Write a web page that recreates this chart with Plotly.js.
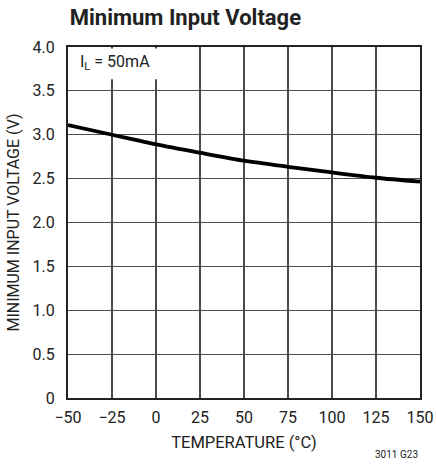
<!DOCTYPE html>
<html>
<head>
<meta charset="utf-8">
<script src="https://cdn.plot.ly/plotly-3.0.1.min.js"></script>
<style>html,body{margin:0;padding:0;background:#fff;}#chart{width:436px;height:465px;}</style>
</head>
<body>
<div id="chart"></div>
<script>
var temperature = [-50, -25, 0, 25, 50, 75, 100, 125, 150];
var minInputVoltage = [3.11, 3.00, 2.89, 2.795, 2.705, 2.635, 2.57, 2.51, 2.465];
var xTickVals = [-50, -25, 0, 25, 50, 75, 100, 125, 150];
var xTickText = ["\u221250", "\u221225", "0", "25", "50", "75", "100", "125", "150"];
var yTickVals = [0, 0.5, 1.0, 1.5, 2.0, 2.5, 3.0, 3.5, 4.0];
var yTickText = ["0", "0.5", "1.0", "1.5", "2.0", "2.5", "3.0", "3.5", "4.0"];

var FONT = "Roboto, 'Liberation Sans', sans-serif";

var trace = {
  x: temperature,
  y: minInputVoltage,
  mode: 'lines',
  line: {color: '#000', width: 3.8, shape: 'spline', smoothing: 0.8},
  hoverinfo: 'skip'
};

var layout = {
  width: 436, height: 465,
  margin: {l: 68, r: 16, t: 47, b: 67, pad: 0},
  paper_bgcolor: '#fff', plot_bgcolor: '#fff',
  showlegend: false,
  font: {family: FONT, color: '#222', size: 16},
  title: {
    text: '<b>Minimum Input Voltage</b>',
    font: {family: FONT, size: 22, color: '#222'},
    xref: 'paper', x: 0.005, xanchor: 'left',
    yref: 'container', y: 0.962, yanchor: 'middle'
  },
  xaxis: {
    range: [-50, 150],
    tickmode: 'array', tickvals: xTickVals, ticktext: xTickText,
    showgrid: true, gridcolor: '#4a4a4a', gridwidth: 1.2,
    zeroline: false,
    showline: true, linecolor: '#222', linewidth: 2, mirror: true,
    ticks: 'outside', ticklen: 4, tickcolor: 'rgba(0,0,0,0)',
    tickfont: {family: FONT, size: 16, color: '#222'},
    title: {text: 'TEMPERATURE (\u00B0C)', font: {family: FONT, size: 16.5, color: '#222'}, standoff: 10},
    fixedrange: true
  },
  yaxis: {
    range: [0, 4],
    tickmode: 'array', tickvals: yTickVals, ticktext: yTickText,
    showgrid: true, gridcolor: '#4a4a4a', gridwidth: 1.2,
    zeroline: false,
    showline: true, linecolor: '#222', linewidth: 2, mirror: true,
    ticks: 'outside', ticklen: 8, tickcolor: 'rgba(0,0,0,0)',
    tickfont: {family: FONT, size: 16, color: '#222'},
    title: {text: 'MINIMUM INPUT VOLTAGE (V)', font: {family: FONT, size: 16, color: '#222'}, standoff: 9},
    fixedrange: true
  },
  shapes: [{
    type: 'rect', xref: 'paper', yref: 'paper',
    x0: 0.004, x1: 0.27, y0: 0.908, y1: 0.996,
    fillcolor: '#fff', line: {width: 0}, layer: 'above'
  }],
  annotations: [
    {
      text: 'I<sub>L</sub> = 50mA', xref: 'paper', yref: 'paper',
      x: 0.028, y: 0.955, xanchor: 'left', yanchor: 'middle',
      showarrow: false, font: {family: FONT, size: 16, color: '#222'}
    },
    {
      text: '3011 G23', xref: 'paper', yref: 'paper',
      x: 1.0, y: -0.16, xanchor: 'right', yanchor: 'middle',
      showarrow: false, font: {family: FONT, size: 10, color: '#222'}
    }
  ]
};

Plotly.newPlot('chart', [trace], layout, {displayModeBar: false, staticPlot: true});
</script>
</body>
</html>
